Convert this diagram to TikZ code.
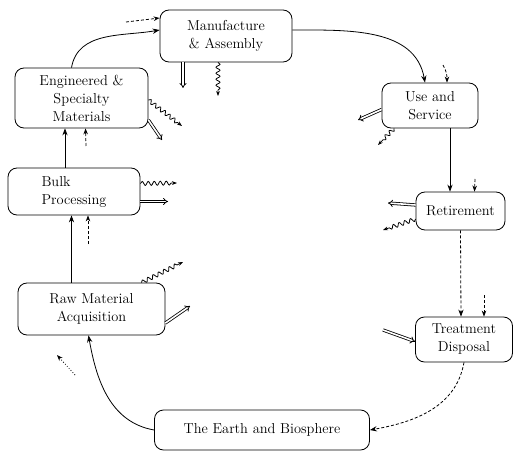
\documentclass[tikz,border=0pt]{standalone}
\usepackage{tikz}
\usetikzlibrary{arrows.meta, positioning, decorations.pathmorphing}

\begin{document}
\begin{tikzpicture}[x=1pt, y=1pt,
  stage/.style={draw, thick, rounded corners=9pt, align=center, font=\Large, inner sep=1pt},
  flow/.style={thick, -{Stealth[length=7pt]}},
  energy/.style={thick, densely dashed, -{Stealth[length=6pt]}},
  emit/.style={thick, decorate, decoration={snake, amplitude=2pt, segment length=6pt, post length=5pt}, -{Stealth[length=5pt]}},
  waste/.style={thick, double, double distance=1.6pt, -{Implies}}]
  \useasboundingbox (0,0) rectangle (514,456);

  % Life cycle stages
  \node[stage, minimum width=132pt, minimum height=52pt] (manu) at (226,420) {Manufacture\\\& Assembly};
  \node[stage, minimum width=133pt, minimum height=60pt] (eng) at (81.5,358) {Engineered \&\\Specialty\\Materials};
  \node[stage, minimum width=132pt, minimum height=47pt, align=left] (bulk) at (74,264.5) {Bulk\\Processing};
  \node[stage, minimum width=147pt, minimum height=52pt] (raw) at (91.5,147) {Raw Material\\Acquisition};
  \node[stage, minimum width=96pt, minimum height=45pt] (use) at (430,350.5) {Use and\\Service};
  \node[stage, minimum width=89pt, minimum height=38pt] (ret) at (460.5,245) {Retirement};
  \node[stage, minimum width=97pt, minimum height=45pt] (treat) at (464,116.5) {Treatment\\Disposal};
  \node[stage, minimum width=215pt, minimum height=40pt] (earth) at (262,26) {The Earth and Biosphere};

  % Main cycle
  \draw[flow] ([xshift=-10pt]eng.north) to[out=80, in=190] ([yshift=6pt]manu.west);
  \draw[flow] ([yshift=6pt]manu.east) to[out=0, in=100] ([xshift=-5pt]use.north);
  \draw[flow] ([xshift=20pt]use.south) -- ([xshift=-10.5pt]ret.north);
  \draw[flow, densely dashed] (ret.south) -- ([xshift=-3pt]treat.north);
  \draw[flow, densely dashed] (treat.south) to[out=-100, in=10] (earth.east);
  \draw[flow] (earth.west) to[out=170, in=-80] ([xshift=-3pt]raw.south);
  \draw[flow] ([xshift=-20pt]raw.north) -- ([xshift=-2.5pt]bulk.south);
  \draw[flow] ([xshift=-9pt]bulk.north) -- ([xshift=-16.5pt]eng.south);

  % Free ends of inputs and outputs
  \coordinate (mIn) at (126,434);
  \coordinate (mW) at (183,368);
  \coordinate (mE) at (218,360);
  \coordinate (eE) at (182,330);
  \coordinate (eW) at (162,316);
  \coordinate (eIn) at (86,310);
  \coordinate (bE) at (177,273);
  \coordinate (bW) at (168,254.5);
  \coordinate (bIn) at (88,212);
  \coordinate (rE) at (183,194);
  \coordinate (rW) at (190,150);
  \coordinate (rIn) at (75,81);
  \coordinate (rInH) at (57,101);
  \coordinate (uIn) at (443,391);
  \coordinate (uW) at (358,336);
  \coordinate (uE) at (378,311);
  \coordinate (rtIn) at (475,277);
  \coordinate (rtW) at (388,253);
  \coordinate (rtE) at (383,226);
  \coordinate (tIn) at (484,161);
  \coordinate (tW) at (383,126);

  % Energy in
  \draw[energy] (mIn) -- ([yshift=18pt]manu.west);
  \draw[energy] (eIn) -- ([xshift=4pt]eng.south);
  \draw[energy] (bIn) -- ([xshift=14pt]bulk.south);
  \draw[energy, dotted] (rIn) -- (rInH);
  \draw[energy] (uIn) to[out=-60, in=90] ([xshift=17pt]use.north);
  \draw[energy] (rtIn) -- ([xshift=14pt]ret.north);
  \draw[energy] (tIn) -- ([xshift=20pt]treat.north);

  % Emissions
  \draw[emit] ([xshift=-8pt]manu.south) -- (mE);
  \draw[emit] ([yshift=-2pt]eng.east) -- (eE);
  \draw[emit] ([yshift=8pt]bulk.east) -- (bE);
  \draw[emit] ([xshift=50pt]raw.north) -- (rE);
  \draw[emit] ([xshift=-36pt]use.south) -- (uE);
  \draw[emit] ([yshift=-8pt]ret.west) -- (rtE);

  % Wastes and products
  \draw[waste] ([xshift=-43pt]manu.south) -- (mW);
  \draw[waste] ([yshift=-22pt]eng.east) -- (eW);
  \draw[waste] ([yshift=-10pt]bulk.east) -- (bW);
  \draw[waste] ([yshift=-14pt]raw.east) -- (rW);
  \draw[waste] ([yshift=-4pt]use.west) -- (uW);
  \draw[waste] ([yshift=6pt]ret.west) -- (rtW);
  \draw[waste] (tW) -- ([yshift=-2pt]treat.west);
\end{tikzpicture}
\end{document}
